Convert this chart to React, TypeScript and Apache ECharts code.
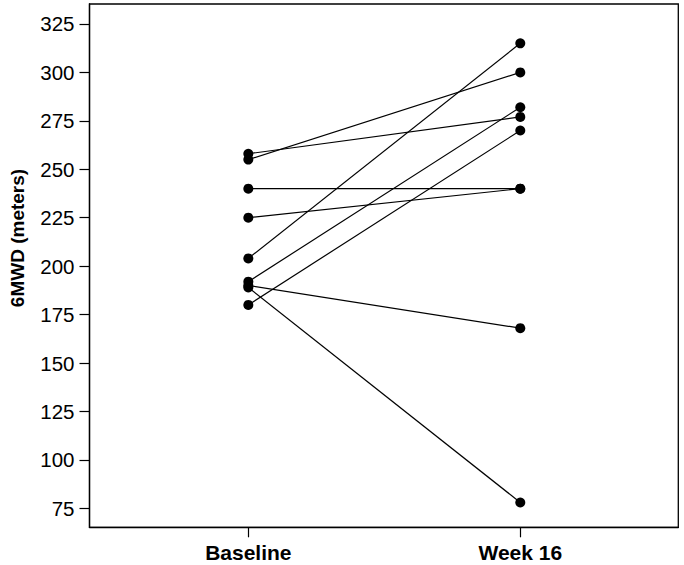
import React, { useEffect, useRef } from "react";
import * as echarts from "echarts";

const timepoints = ["Baseline", "Week 16"];
const baseline = [258, 255, 240, 225, 204, 192, 190, 189, 180];
const week16 = [277, 300, 240, 240, 315, 282, 168, 78, 270];
const yTicks = [75, 100, 125, 150, 175, 200, 225, 250, 275, 300, 325];
const yAxisTitle = "6MWD (meters)";

export default function App() {
  const ref = useRef<HTMLDivElement>(null);
  useEffect(() => {
    if (!ref.current) return;
    const chart = echarts.init(ref.current, null, { renderer: "svg" });
    const font = "'Liberation Sans', Arial, Helvetica, sans-serif";
    const series = baseline.map((b, i) => ({
      type: "line",
      data: [
        [0, b],
        [1, week16[i]],
      ],
      symbol: "circle",
      symbolSize: 10,
      itemStyle: { color: "#000" },
      lineStyle: { color: "#000", width: 1.2 },
      silent: true,
    }));
    chart.setOption({
      animation: false,
      backgroundColor: "#fff",
      grid: {
        left: 89.5,
        right: 5.7,
        top: 4,
        bottom: 37.7,
        show: true,
        borderColor: "#000",
        borderWidth: 1.3,
        backgroundColor: "transparent",
      },
      xAxis: {
        type: "value",
        min: -0.584,
        max: 1.581,
        splitLine: { show: false },
        axisLine: { show: true, onZero: false, lineStyle: { color: "#000", width: 1.3 } },
        axisTick: {
          show: true,
          customValues: [0, 1],
          length: 10,
          lineStyle: { color: "#000", width: 1.2 },
        },
        axisLabel: {
          customValues: [0, 1],
          formatter: (v: number) => timepoints[Math.round(v)] ?? "",
          fontFamily: font,
          fontWeight: "bold",
          fontSize: 21,
          color: "#000",
          margin: 15,
        },
      },
      yAxis: {
        type: "value",
        min: 65.2,
        max: 335.3,
        splitLine: { show: false },
        axisLine: { show: true, onZero: false, lineStyle: { color: "#000", width: 1.3 } },
        axisTick: {
          show: true,
          customValues: yTicks,
          length: 10,
          lineStyle: { color: "#000", width: 1.2 },
        },
        axisLabel: {
          customValues: yTicks,
          fontFamily: font,
          fontSize: 20.5,
          color: "#000",
          margin: 15,
        },
      },
      graphic: [
        {
          type: "text",
          x: 17,
          y: 238,
          rotation: Math.PI / 2,
          style: {
            text: yAxisTitle,
            fontFamily: font,
            fontWeight: "bold",
            fontSize: 19,
            fill: "#000",
            align: "center",
            verticalAlign: "middle",
          },
        },
      ],
      series,
    });
    return () => chart.dispose();
  }, []);
  return (
    <div
      ref={ref}
      style={{ position: "fixed", left: 0, top: 0, width: 684, height: 565 }}
    />
  );
}
